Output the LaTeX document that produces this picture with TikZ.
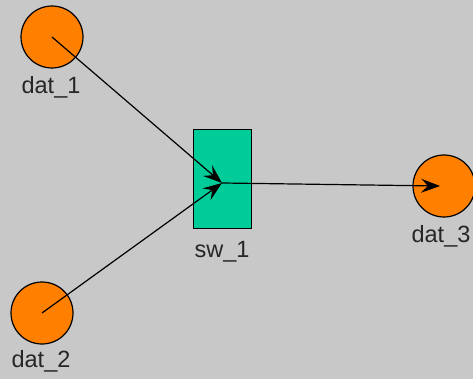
\documentclass[tikz,border=0pt]{standalone}
\usepackage{fontspec}
\setmainfont{Liberation Sans}
\usetikzlibrary{arrows.meta}
\definecolor{bg}{HTML}{C8C8C8}
\definecolor{dorange}{HTML}{FF7F00}
\definecolor{dteal}{HTML}{00CC99}
\begin{document}
\begin{tikzpicture}[x=1pt,y=-1pt,
  datnode/.style={circle,draw=black,line width=1.2pt,fill=dorange,minimum size=62pt,inner sep=0pt},
  swnode/.style={rectangle,draw=black,line width=1.2pt,fill=dteal,minimum width=58pt,minimum height=99pt,inner sep=0pt},
  lbl/.style={font=\fontsize{23.5}{25}\selectfont,inner sep=0pt,text=black!85},
  conn/.style={line width=1.2pt,-{Stealth[length=19pt,width=14pt,inset=7pt]}}]
\fill[bg] (0,0) rectangle (473,379);
\useasboundingbox (0,0) rectangle (473,379);
\node[datnode] (d1) at (52,37) {};
\node[datnode] (d2) at (42,313) {};
\node[datnode] (d3) at (444,186) {};
\node[swnode] (sw) at (222.5,179) {};
\coordinate (swc) at (222,183);
\node[lbl] (l1) at (51,87) {dat\_1};
\node[lbl] (l2) at (41,361) {dat\_2};
\node[lbl] (l3) at (441,236) {dat\_3};
\node[lbl] (ls) at (222,252) {sw\_1};
\draw[conn] (d1.center) -- (swc);
\draw[conn] (d2.center) -- (swc);
\draw[conn] (swc) -- ([xshift=-4pt]d3.center);
\end{tikzpicture}
\end{document}
